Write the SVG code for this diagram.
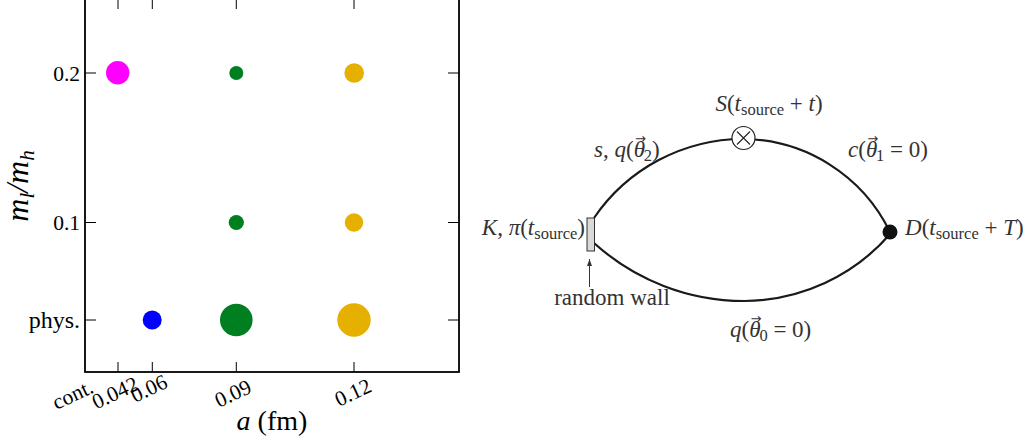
<svg xmlns="http://www.w3.org/2000/svg" width="1035" height="444" viewBox="0 0 1035 444">
<style>
.ax{fill:none;stroke:#000;stroke-width:1.8}
.tk{stroke:#000;stroke-width:1}
.lbl{font-family:"Liberation Serif",serif;fill:#000}
.tl{font-family:"Liberation Serif",serif;font-size:21.5px;fill:#000}
.m{font-family:"Liberation Serif",serif;font-size:23px;fill:#333}
.it{font-style:italic}
.sub{font-size:16.5px}
.arr{font-family:"DejaVu Sans",sans-serif;font-size:13px;font-style:normal}
.ln{fill:none;stroke:#1a1a1a;stroke-width:2.2}
</style>
<defs>
<marker id="ah" markerWidth="8" markerHeight="8" refX="7" refY="4" orient="auto" markerUnits="userSpaceOnUse">
<path d="M0,1.5 L7,4 L0,6.5 Z" fill="#333"/>
</marker>
</defs>

<g id="plot">
<rect class="ax" x="85" y="-10" width="374" height="382"/>
<g id="ticks">
<line class="tk" x1="118" y1="0" x2="118" y2="9"/>
<line class="tk" x1="152.3" y1="0" x2="152.3" y2="9"/>
<line class="tk" x1="236.3" y1="0" x2="236.3" y2="9"/>
<line class="tk" x1="354" y1="0" x2="354" y2="9"/>
<line class="tk" x1="118" y1="362" x2="118" y2="372"/>
<line class="tk" x1="152.3" y1="362" x2="152.3" y2="372"/>
<line class="tk" x1="236.3" y1="362" x2="236.3" y2="372"/>
<line class="tk" x1="354" y1="362" x2="354" y2="372"/>
<line class="tk" x1="85" y1="73" x2="96" y2="73"/>
<line class="tk" x1="85" y1="222.5" x2="96" y2="222.5"/>
<line class="tk" x1="85" y1="320" x2="96" y2="320"/>
<line class="tk" x1="448" y1="73" x2="459" y2="73"/>
<line class="tk" x1="448" y1="222.5" x2="459" y2="222.5"/>
<line class="tk" x1="448" y1="320" x2="459" y2="320"/>
</g>
<g id="ylabels">
<text class="tl" x="80" y="80.5" text-anchor="end">0.2</text>
<text class="tl" x="80" y="230" text-anchor="end">0.1</text>
<text class="lbl" x="80" y="327.5" text-anchor="end" font-size="24">phys.</text>
</g>
<g id="xlabels">
<text class="tl" text-anchor="end" transform="translate(95,392) rotate(-25)">cont.</text>
<text class="tl" text-anchor="end" transform="translate(140,389) rotate(-25)">0.042</text>
<text class="tl" text-anchor="end" transform="translate(169,387) rotate(-25)">0.06</text>
<text class="tl" text-anchor="end" transform="translate(253,392) rotate(-25)">0.09</text>
<text class="tl" text-anchor="end" transform="translate(373,391) rotate(-25)">0.12</text>
</g>
<text id="xtitle" class="lbl" x="272" y="430" text-anchor="middle" font-size="28"><tspan class="it">a</tspan> (fm)</text>
<text id="ytitle" class="lbl it" font-size="32" text-anchor="middle" transform="translate(28,186) rotate(-90)">m<tspan font-size="21" dy="6">l</tspan><tspan dy="-6">/m</tspan><tspan font-size="21" dy="6">h</tspan></text>
<g id="points">
<circle cx="117.7" cy="72.7" r="11.7" fill="#FF00FF"/>
<circle cx="236.3" cy="73" r="7" fill="#007F20"/>
<circle cx="354.2" cy="73" r="9.8" fill="#E6B000"/>
<circle cx="236.3" cy="222.5" r="7.6" fill="#007F20"/>
<circle cx="354" cy="222.5" r="9.2" fill="#E6B000"/>
<circle cx="152.2" cy="320" r="9.5" fill="#0000FF"/>
<circle cx="236.3" cy="320" r="16.3" fill="#007F20"/>
<circle cx="354" cy="320" r="16.7" fill="#E6B000"/>
</g>
</g>

<g id="connectors">
<path class="ln" d="M594,218 A181,181 0 0 1 743,139"/>
<path class="ln" d="M743,139 A165,165 0 0 1 890,232"/>
<path class="ln" d="M594,243 A224,224 0 0 0 744,301"/>
<path class="ln" d="M744,301 A195,195 0 0 0 891,233"/>
<line x1="589.5" y1="287" x2="589.5" y2="259" stroke="#333" stroke-width="1" marker-end="url(#ah)"/>
</g>

<g id="wall">
<rect x="587" y="218" width="7.5" height="33" fill="#d9d9d9" stroke="#333" stroke-width="1"/>
</g>
<g id="vertexS">
<circle cx="743.5" cy="138" r="11.5" fill="#fff" stroke="#222" stroke-width="1.2"/>
<path d="M737,131.5 L750,144.5 M750,131.5 L737,144.5" stroke="#222" stroke-width="1.1"/>
</g>
<g id="vertexD">
<circle cx="890" cy="232" r="7.5" fill="#111"/>
</g>

<g id="labels">
<text class="m" x="585" y="235" text-anchor="end"><tspan class="it">K</tspan>, <tspan class="it">π</tspan>(<tspan class="it">t</tspan><tspan class="sub" dy="4">source</tspan><tspan dy="-4">)</tspan></text>
<text class="m" x="905" y="235"><tspan class="it">D</tspan>(<tspan class="it">t</tspan><tspan class="sub" dy="4">source</tspan><tspan dy="-4"> + </tspan><tspan class="it">T</tspan>)</text>
<text class="m" x="769" y="111" text-anchor="middle"><tspan class="it">S</tspan>(<tspan class="it">t</tspan><tspan class="sub" dy="4">source</tspan><tspan dy="-4"> + </tspan><tspan class="it">t</tspan>)</text>
<text class="m" x="594" y="157"><tspan class="it">s</tspan>, <tspan class="it">q</tspan>(<tspan class="it">θ</tspan><tspan class="arr" dx="-10" dy="-14">→</tspan><tspan class="sub" dx="-2" dy="18">2</tspan><tspan dy="-4">)</tspan></text>
<text class="m" x="848" y="157"><tspan class="it">c</tspan>(<tspan class="it">θ</tspan><tspan class="arr" dx="-10" dy="-14">→</tspan><tspan class="sub" dx="-2" dy="18">1</tspan><tspan dy="-4"> = 0)</tspan></text>
<text class="m" x="730" y="337"><tspan class="it">q</tspan>(<tspan class="it">θ</tspan><tspan class="arr" dx="-10" dy="-14">→</tspan><tspan class="sub" dx="-2" dy="18">0</tspan><tspan dy="-4"> = 0)</tspan></text>
<text class="m" x="612" y="305" text-anchor="middle" font-size="19">random wall</text>
</g>
</svg>
